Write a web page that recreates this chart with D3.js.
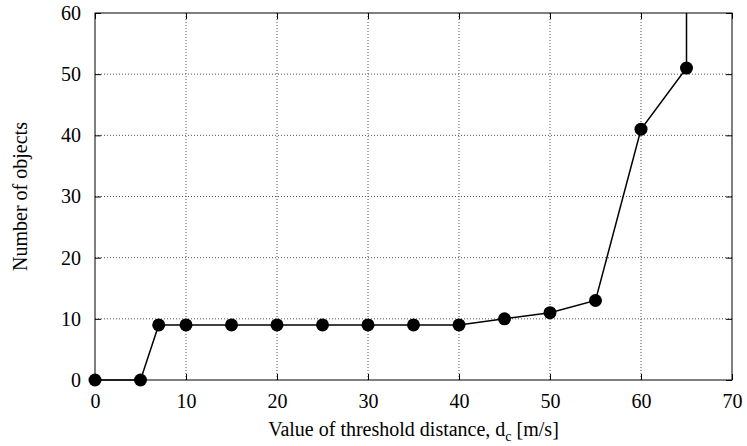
<!DOCTYPE html>
<html lang="en">
<head>
<meta charset="UTF-8">
<title>Number of objects vs threshold distance</title>
<script src="https://d3js.org/d3.v7.min.js"></script>
<style>
    body { margin: 0; background: #fff; }
    svg { display: block; }
    .grid line { stroke: #555; stroke-dasharray: 1,2; stroke-width: 1; }
</style>
</head>
<body>
<script>
    // values
    const distances = [0, 5, 7, 10, 15, 20, 25, 30, 35, 40, 45, 50, 55, 60, 65, 65];
    const objects   = [0, 0, 9, 9, 9, 9, 9, 9, 9, 9, 10, 11, 13, 41, 51, 90];
    const xTicks = [0, 10, 20, 30, 40, 50, 60, 70];
    const yTicks = [0, 10, 20, 30, 40, 50, 60];

    const FONT = "'Liberation Serif', 'Times New Roman', serif";

    const width = 747, height = 446;
    const margin = {top: 13, right: 15, bottom: 66, left: 95};
    const iw = width - margin.left - margin.right;
    const ih = height - margin.top - margin.bottom;

    const svg = d3.select("body").append("svg")
        .attr("width", width)
        .attr("height", height);

    const g = svg.append("g")
        .attr("transform", `translate(${margin.left},${margin.top})`);

    const x = d3.scaleLinear().domain([0, 70]).range([0, iw]);
    const y = d3.scaleLinear().domain([0, 60]).range([ih, 0]);

    // dotted grid
    const grid = g.append("g").attr("class", "grid");
    grid.selectAll(".gx").data(xTicks.slice(1, -1)).enter().append("line")
        .attr("x1", d => x(d)).attr("x2", d => x(d))
        .attr("y1", 0).attr("y2", ih);
    grid.selectAll(".gy").data(yTicks.slice(1, -1)).enter().append("line")
        .attr("x1", 0).attr("x2", iw)
        .attr("y1", d => y(d)).attr("y2", d => y(d));

    // axes with inward ticks on all sides
    const tickStyle = sel => {
        sel.attr("font-size", null).attr("font-family", null);
        sel.select(".domain").remove();
        sel.selectAll("line").attr("stroke", "#000");
        sel.selectAll("text")
            .style("font-family", FONT)
            .style("font-size", "20px")
            .style("fill", "#000");
    };
    g.append("g").attr("transform", `translate(0,${ih})`)
        .call(d3.axisBottom(x).tickValues(xTicks).tickSizeInner(-6).tickSizeOuter(0).tickPadding(14))
        .call(tickStyle);
    g.append("g")
        .call(d3.axisTop(x).tickValues(xTicks).tickSizeInner(-6).tickSizeOuter(0).tickFormat(""))
        .call(tickStyle);
    g.append("g")
        .call(d3.axisLeft(y).tickValues(yTicks).tickSizeInner(-6).tickSizeOuter(0).tickPadding(14))
        .call(tickStyle);
    g.append("g").attr("transform", `translate(${iw},0)`)
        .call(d3.axisRight(y).tickValues(yTicks).tickSizeInner(-6).tickSizeOuter(0).tickFormat(""))
        .call(tickStyle);

    g.append("rect")
        .attr("width", iw).attr("height", ih)
        .attr("fill", "none").attr("stroke", "#000").attr("stroke-width", 1);

    // data, clipped at the top of the frame
    g.append("clipPath").attr("id", "clip")
        .append("rect").attr("width", iw).attr("height", ih + 10).attr("y", 0).attr("x", -10);

    const pts = distances.map((d, i) => ({x: d, y: objects[i]}));
    const line = d3.line().x(d => x(d.x)).y(d => y(d.y));

    g.append("g").attr("clip-path", "url(#clip)")
        .append("path")
        .datum(pts)
        .attr("d", line)
        .attr("fill", "none")
        .attr("stroke", "#000")
        .attr("stroke-width", 1.5);

    g.selectAll(".pt").data(pts.filter(d => d.y <= 60)).enter().append("circle")
        .attr("cx", d => x(d.x))
        .attr("cy", d => y(d.y))
        .attr("r", 6.5)
        .attr("fill", "#000");

    // axis titles
    const xt = svg.append("text")
        .attr("x", margin.left + iw / 2)
        .attr("y", 436)
        .attr("text-anchor", "middle")
        .style("font-family", FONT)
        .style("font-size", "20px");
    xt.append("tspan").text("Value of threshold distance, d");
    xt.append("tspan").style("font-size", "14px").attr("dy", 5).text("c");
    xt.append("tspan").attr("dy", -5).text(" [m/s]");

    svg.append("text")
        .attr("transform", `translate(27,${margin.top + ih / 2}) rotate(-90)`)
        .attr("text-anchor", "middle")
        .style("font-family", FONT)
        .style("font-size", "20px")
        .text("Number of objects");
</script>
</body>
</html>
